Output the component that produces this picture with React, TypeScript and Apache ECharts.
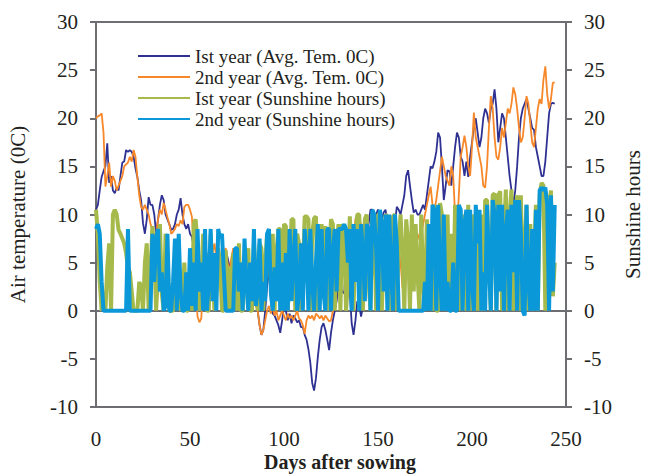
import React, { useEffect, useRef } from "react";
import * as echarts from "echarts";

// Daily values, day 0 .. 244
const temp1stYear = [
  10.5, 11, 12.5, 13.9, 14.5, 15, 17.4, 13.3, 14, 12.5,
  12.2, 12.8, 12.5, 14, 15.4, 15.5, 16.7, 16.5, 16.7, 16.5,
  16, 14.8, 13.9, 12.5, 11.5, 9.1, 8, 9.5, 11.8, 11,
  11, 10, 8, 9.5, 11, 12, 11.5, 10, 9.5, 9,
  8.4, 8.5, 9, 10, 10.5, 11.7, 10, 9, 8.5, 9,
  8, 7.7, 6.5, 5.5, 5.3, 3.9, 3, 2, 4, 5,
  5.5, 4, 3.5, 5, 5.6, 4, 2.9, 4, 5, 6.3,
  5.5, 4.6, 5, 6, 4, 3, 5, 4.5, 2.9, 3.5,
  3, 2, 4, 3, 2, 1.5, 0, -1.5, -2.5, -2,
  0, 2.5, 4.5, 1, -0.3, -0.5, -1, -1.5, -2.3, -1,
  0.4, 0, -1, -0.3, -1.3, -0.5, -0.8, -1.2, -1, -1.7,
  -1.7, -2.5, -3, -4, -5.4, -7.5, -8.3, -7, -4.8, -3,
  -1.7, -1.3, -2, -3, -4.1, -2.3, -1, 0, 1, 2.8,
  2.5, 2, 1.8, 5, 5.6, 2, -1.3, -2.5, -1, 1,
  0.5, -0.6, 0.5, 3, 6, 9, 10.5, 10.5, 9.5, 10,
  10.5, 10, 9.5, 10.2, 10.5, 9, 8, 7.3, 7.5, 9,
  10.8, 10.5, 10, 11, 12, 14, 14.6, 13, 11.5, 10.2,
  10.5, 10, 10, 10.5, 11, 10.5, 12, 13.5, 15, 14.8,
  15.5, 16.5, 18.5, 18, 15, 11.5, 13, 14.6, 14.5, 13,
  15, 17, 18.5, 18, 16, 15.5, 14, 15.5, 13.9, 16,
  17.5, 19, 20, 18.5, 17, 18, 20, 21, 20.5, 19.5,
  21, 21.5, 23, 21, 17.5, 19, 20.5, 20, 18, 16,
  14, 12.5, 11, 12.5, 15, 18, 20, 21, 21.5, 22,
  21, 20, 19, 18.8, 17, 16, 15, 14, 14, 15.5,
  18, 20.5, 21.5, 21.6, 21.5,
];

const temp2ndYear = [
  20, 20.2, 20.3, 20.5, 18.5, 12.9, 14, 15.4, 12.9, 14,
  13.5, 12.5, 13, 13.5, 14, 15, 15.2, 15.4, 16, 15.5,
  16.7, 16, 13.9, 12, 10.8, 10.5, 11, 10.5, 10, 9,
  8.5, 7.5, 8, 9.5, 10.5, 10, 11.2, 10.5, 9.7, 9,
  8, 8.2, 8.5, 9, 8.8, 9.4, 9, 10.8, 11, 11,
  10.5, 9.8, 6.3, 2.9, -0.6, -1.2, -0.8, 3, 5, 6,
  5, 4.5, 6, 7, 5.5, 4, 3, 4.5, 6, 6.5,
  5, 4, 5.5, 6.5, 5, 3, 4, 5, 3.5, 2.5,
  3, 4, 2.5, 2, 1.5, 0.5, 0, -1.5, -2.5, -2,
  -1, 0, 0.5, -0.3, 0.5, -0.5, 0, -1, -0.5, 0,
  -0.5, -1, -0.3, -0.8, -0.5, -1, -0.5, 0, -0.8, -1,
  -1.5, -2.4, -1, -0.5, -0.8, -0.5, -1, -0.3, -0.5, -0.8,
  -0.5, -1, -0.5, -0.8, -1.1, -1, 0, 2, 4, 3,
  4, 5.5, 6, 5, 7, 8.4, 8.4, 7, 9.6, 8.5,
  9.5, 9, 8, 7.5, 6, 5.6, 4.6, 3.5, 4.6, 6,
  7, 8, 6.5, 5, 6, 7.5, 8.5, 7, 5.5, 4.5,
  5, 6.5, 5, 2.5, 1.5, 4, 8.4, 7, 8.5, 8.4,
  7.5, 8, 7.4, 8, 9, 10, 11, 12, 12.9, 11,
  10.5, 11.5, 13, 14.5, 16, 15, 14, 13.5, 13, 15,
  14, 10, 8.4, 12, 16, 17, 18.2, 17, 15, 14,
  17, 20.6, 18, 17, 16, 15, 13, 12.8, 15, 19,
  22.3, 21, 18, 16, 15.7, 17, 19, 18, 19.5, 21,
  20.5, 21.5, 23.2, 22.5, 21, 19, 17.5, 18, 20, 22.3,
  21.5, 19.5, 17.5, 17, 19, 21, 22, 21.5, 24, 25.4,
  22.5, 21, 22, 23.7, 23.7,
];

const sun1stYear = [
  10.5, 8, 3, 0, 2, 0, 4.5, 7, 0, 10,
  10.5, 10, 8.4, 8, 7.5, 7, 6, 4.5, 4, 2,
  0, 0, 0, 3, 2.5, 0, 5, 7, 0, 4,
  8.8, 6, 0, 4, 9, 1.8, 0, 8, 6, 0,
  0, 0, 3, 3, 2, 0, 1, 5, 0, 0,
  4, 0, 9, 9.5, 7, 0, 3, 8, 6, 0,
  0, 8, 4, 0, 2, 6.5, 5, 0, 0, 6.3,
  0, 4.6, 0, 6, 4.5, 0, 7, 0, 0, 3,
  5, 6.5, 0, 0, 7, 4, 0, 7, 6.5, 0,
  5, 8, 7, 3, 8, 0, 6, 8.5, 8.5, 0,
  9, 8.8, 0, 4, 9.5, 9.5, 0, 8, 7, 0,
  4, 9.8, 9.8, 9.5, 0, 8, 9.6, 9.8, 0, 6,
  9, 2, 8.8, 0, 5, 9.5, 9, 0, 7, 9,
  0, 9, 8, 0, 3, 9.8, 6, 0, 8, 10,
  10, 4, 0, 9.5, 10, 3, 0, 10, 9, 0,
  10, 10, 0, 5, 10, 9.8, 0, 3, 9.8, 10,
  0, 7, 10, 6, 0, 9.5, 7, 0, 10, 2,
  9, 4, 0, 10, 3, 0, 9.5, 1, 6, 0,
  11, 0, 0, 11.2, 10, 3, 0, 10, 0, 8,
  0, 11, 0, 10.5, 0, 5, 10, 0, 11, 0,
  10, 8, 0, 9.5, 0, 10, 0, 11.5, 11.5, 5,
  0, 12, 12.2, 0, 12, 12.4, 0, 8, 12.6, 0,
  10, 12.6, 0, 9, 12, 0, 12, 0, 7, 11,
  0, 9, 0, 6, 11, 0, 12, 13.3, 13, 0,
  12, 11, 12.5, 1.5, 5,
];

const sun2ndYear = [
  8.5, 9, 8, 3, 0, 0, 0, 0, 0, 0,
  0, 0, 0, 0, 0, 0, 0, 8.5, 0, 0,
  0, 0, 0, 0, 0, 0, 0, 0, 0, 0,
  8, 3, 7.5, 8.5, 2, 4, 0, 0.5, 8, 0,
  0, 3, 7.5, 0, 8, 2, 0, 0, 4, 0,
  6.5, 0.5, 5, 0, 8.5, 2, 5, 0, 8.5, 0,
  3, 8.5, 1, 6, 0, 8.5, 7.5, 8, 4, 0,
  0, 0, 0, 0, 6.5, 6.5, 2, 5, 0, 7.5,
  3, 0, 5, 1, 8.5, 0.5, 2, 7.5, 0, 3,
  1, 8, 8.5, 2, 0, 4.5, 1, 8.5, 0, 5,
  0, 6, 0, 8.5, 1, 5.5, 8.5, 0, 2, 7,
  0, 8.5, 6, 0, 8.5, 3, 0, 5, 9, 0,
  8.5, 2, 0, 8.5, 8.5, 0, 6, 8.5, 2, 8.5,
  8.5, 8.5, 9, 8.5, 5, 8.5, 0, 9, 3, 8.5,
  0, 9, 6, 1, 9, 8.5, 0, 10.5, 10, 6.5,
  0, 10.5, 9, 2, 10, 0, 10, 4, 0, 10,
  7, 0, 0, 0, 0, 0, 0, 0, 0, 0,
  0, 0, 0, 0, 0, 3, 0, 9, 0, 11,
  10.5, 0, 11, 4, 0, 10, 0, 3, 0, 0,
  5, 0, 0, 11, 10.5, 0, 9, 10.5, 0, 10.5,
  3, 0, 11, 7, 10.5, 0, 4, 0, 11, 5,
  0, 11.5, 10, 0, 11, 2, 11, 0, 8, 10.5,
  0, 11, 4, 11.5, 0, 11.5, 8, 0, -0.5, 11,
  3, 0, 8.5, 0, 10.5, 0, 12.5, 12.8, 12.5, 12.8,
  11, 0, 12, 2, 11,
];

const seriesNames = [
  "Ist year (Avg. Tem. 0C)",
  "2nd year (Avg. Tem. 0C)",
  "Ist year (Sunshine hours)",
  "2nd year (Sunshine hours)",
];

const FONT = "'Liberation Serif', 'Times New Roman', serif";
const TEXT = "#231f20";
const AXIS = "#6d6e71";

const toPairs = (arr: number[]) => arr.map((v, i) => [i, v]);

export default function App() {
  const ref = useRef<HTMLDivElement>(null);

  useEffect(() => {
    document.body.style.margin = "0";
    document.body.style.overflow = "hidden";
    document.documentElement.style.overflow = "hidden";
    if (!ref.current) return;
    const chart = echarts.init(ref.current, undefined, { renderer: "svg" });

    const yAxisCommon = {
      type: "value" as const,
      min: -10,
      max: 30,
      interval: 5,
      nameLocation: "middle" as const,
      nameRotate: 90,
      nameMoveOverlap: false,
      nameTextStyle: { fontFamily: FONT, fontSize: 21, color: TEXT },
      axisLine: { show: true, lineStyle: { color: AXIS, width: 2 } },
      axisTick: { show: true, length: 6, lineStyle: { color: AXIS, width: 2 } },
      axisLabel: { fontFamily: FONT, fontSize: 21, color: TEXT, margin: 18 },
      splitLine: { show: false },
    };

    chart.setOption({
      animation: false,
      backgroundColor: "#ffffff",
      grid: {
        left: 96,
        right: 80,
        top: 22,
        bottom: 68,
        containLabel: false,
        outerBoundsMode: "none",
        show: true,
        borderColor: AXIS,
        borderWidth: 2,
      },
      legend: {
        orient: "vertical",
        left: 132,
        top: 41,
        itemWidth: 52,
        itemHeight: 14,
        itemGap: 1,
        itemStyle: { opacity: 0 },
        textStyle: { fontFamily: FONT, fontSize: 19, color: TEXT, lineHeight: 20 },
        data: seriesNames,
      },
      xAxis: {
        type: "value",
        min: 0,
        max: 250,
        interval: 50,
        name: "Days after sowing",
        nameLocation: "middle",
        nameGap: 45,
        nameMoveOverlap: false,
        nameTextStyle: {
          fontFamily: FONT,
          fontSize: 20,
          fontWeight: "bold",
          color: TEXT,
          verticalAlign: "top",
          padding: [0, 0, 0, 18],
        },
        axisLine: { show: true, lineStyle: { color: AXIS, width: 2 } },
        axisTick: { show: false },
        axisLabel: { fontFamily: FONT, fontSize: 21, color: TEXT, margin: 21 },
        splitLine: { show: false },
      },
      yAxis: [
        { ...yAxisCommon, position: "left", name: "Air temperature (0C)", nameGap: 68 },
        { ...yAxisCommon, position: "right", name: "Sunshine hours", nameGap: 56 },
      ],
      series: [
        {
          name: seriesNames[0],
          type: "line",
          yAxisIndex: 0,
          data: toPairs(temp1stYear),
          symbol: "none",
          lineStyle: { color: "#2e3192", width: 1.8 },
          itemStyle: { color: "#2e3192" },
        },
        {
          name: seriesNames[1],
          type: "line",
          yAxisIndex: 0,
          data: toPairs(temp2ndYear),
          symbol: "none",
          lineStyle: { color: "#f7882a", width: 1.8 },
          itemStyle: { color: "#f7882a" },
        },
        {
          name: seriesNames[2],
          type: "line",
          yAxisIndex: 1,
          data: toPairs(sun1stYear),
          symbol: "none",
          lineStyle: { color: "#a6b94b", width: 4 },
          itemStyle: { color: "#a6b94b" },
        },
        {
          name: seriesNames[3],
          type: "line",
          yAxisIndex: 1,
          data: toPairs(sun2ndYear),
          symbol: "none",
          lineStyle: { color: "#0a98d8", width: 4 },
          itemStyle: { color: "#0a98d8" },
        },
      ],
    });

    return () => chart.dispose();
  }, []);

  return <div ref={ref} style={{ width: 646, height: 475, background: "#fff" }} />;
}
